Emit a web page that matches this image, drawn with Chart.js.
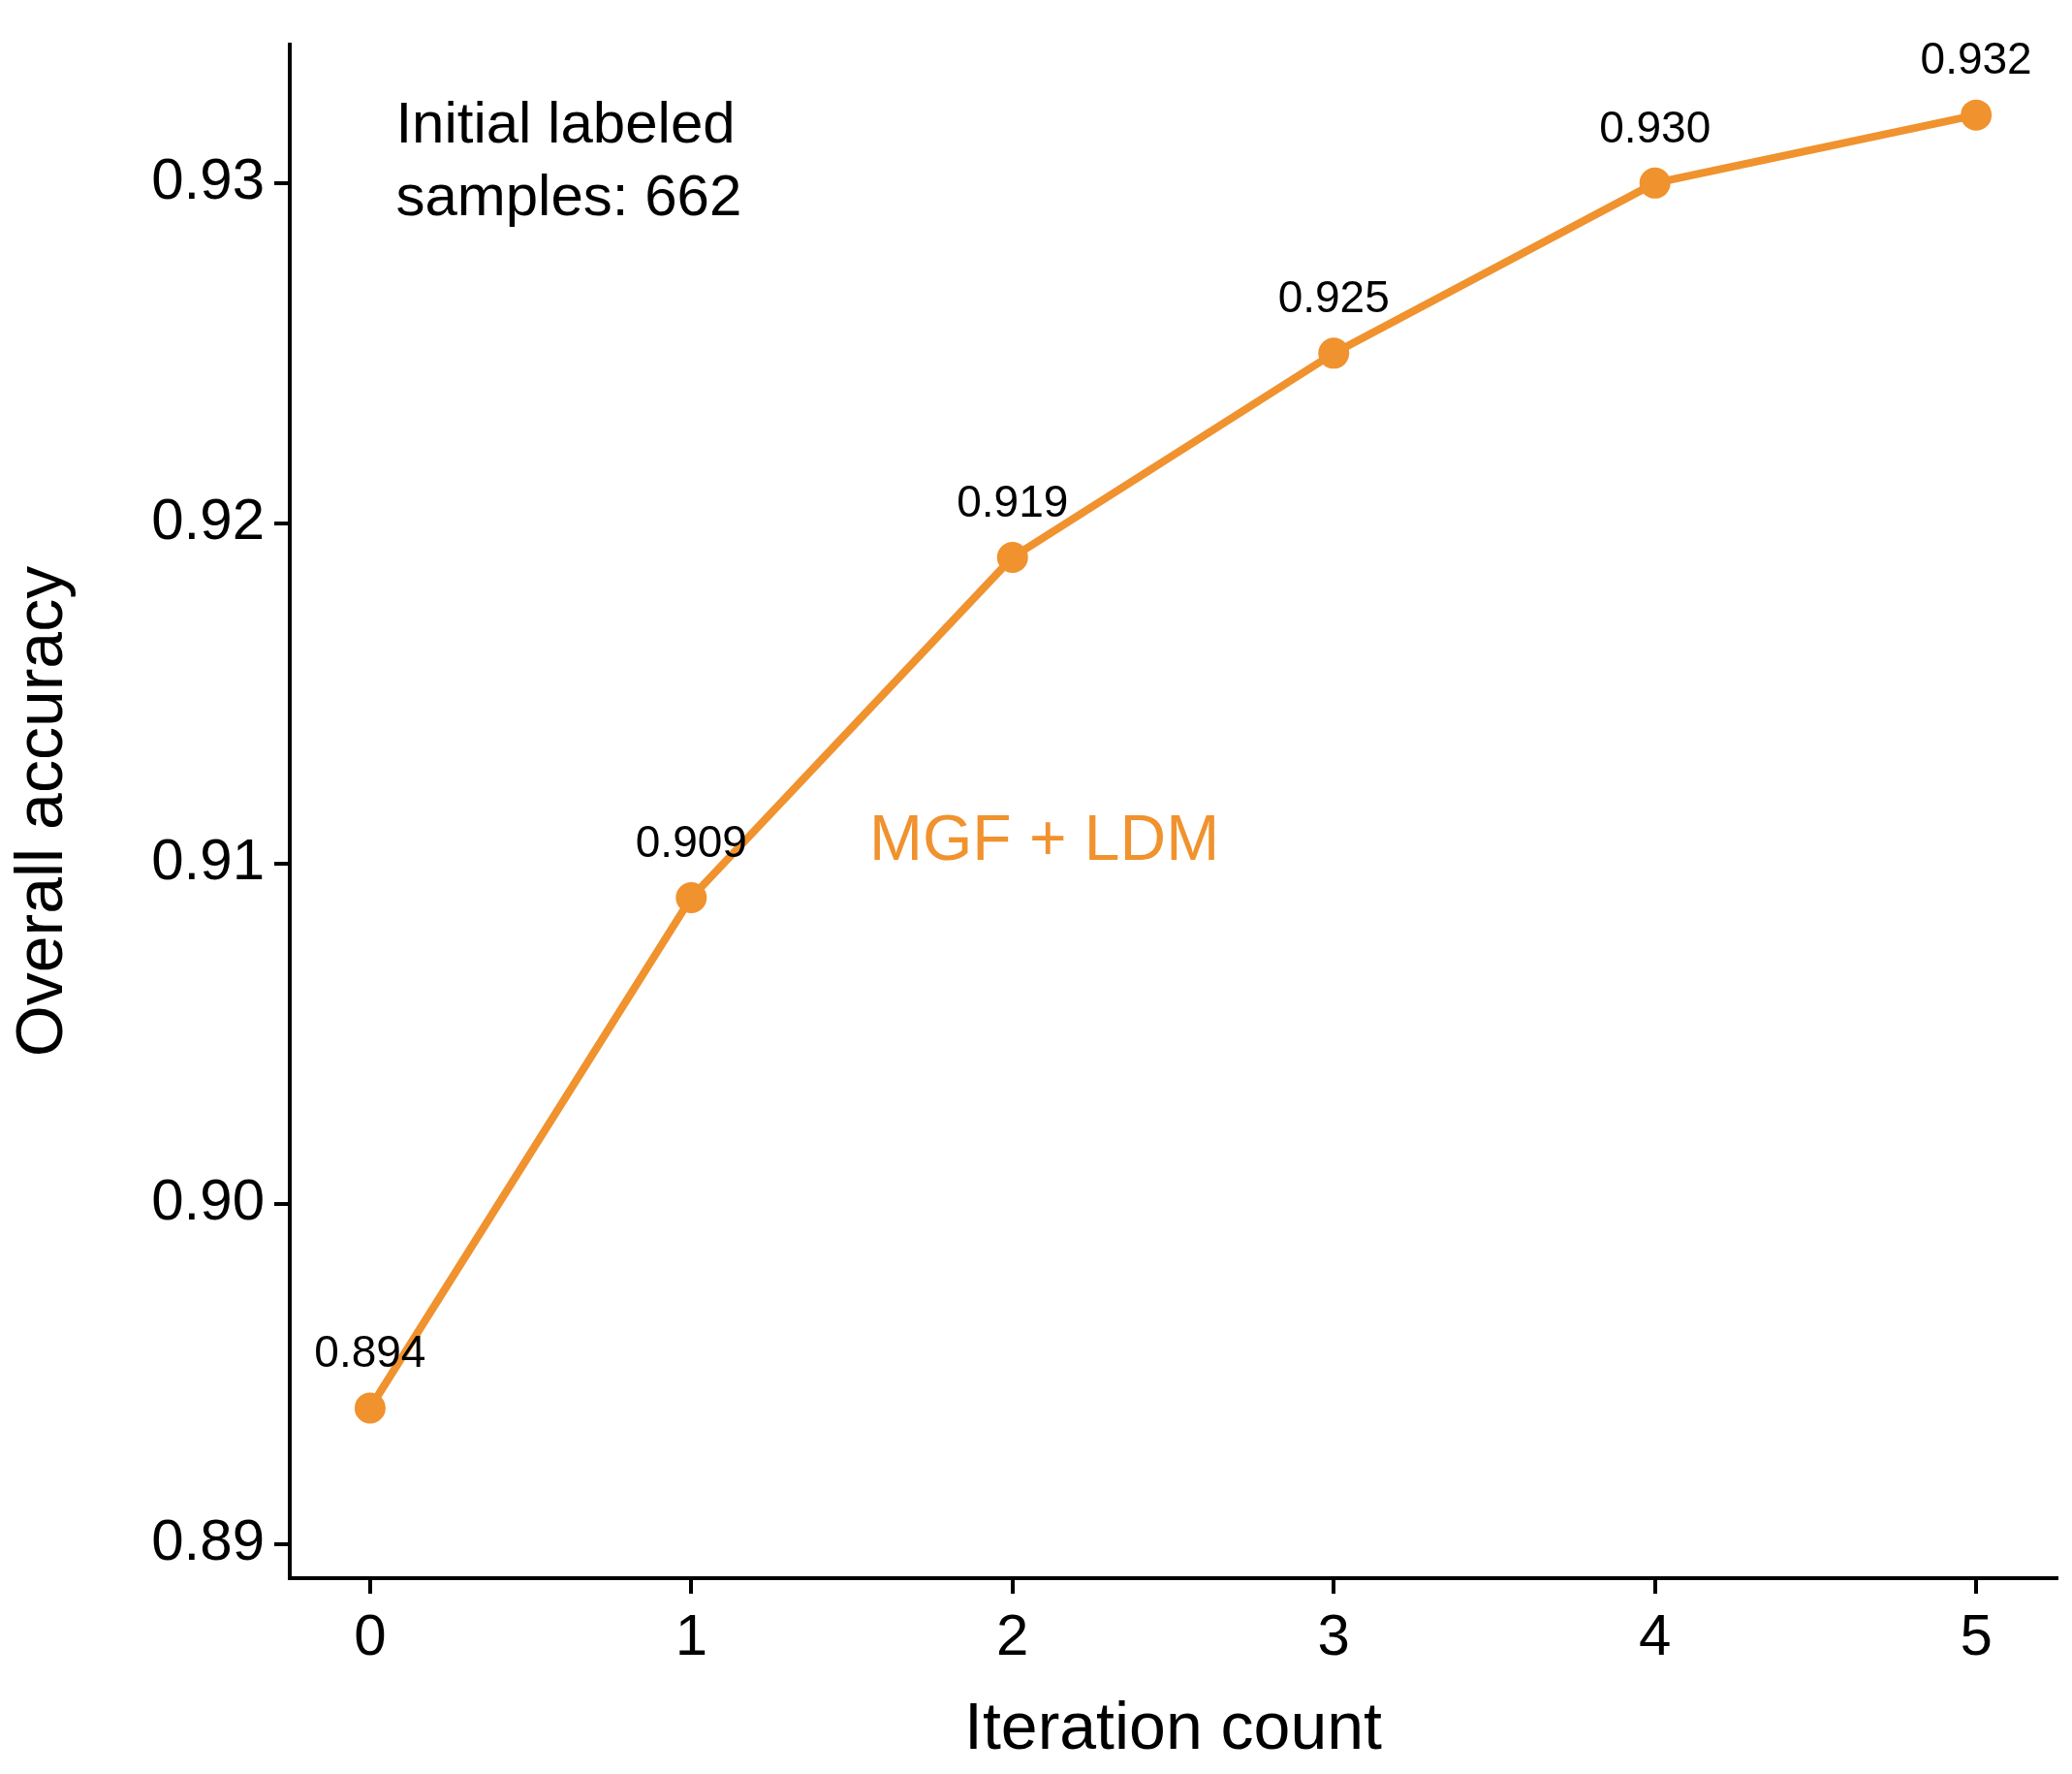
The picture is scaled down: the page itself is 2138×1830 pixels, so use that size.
<!DOCTYPE html>
<html>
<head>
<meta charset="utf-8">
<script src="https://cdn.jsdelivr.net/npm/chart.js@4"></script>
<style>
  html, body { margin: 0; padding: 0; background: #fff; }
  #wrap { width: 2138px; height: 1830px; }
</style>
</head>
<body>
<div id="wrap"><canvas id="accChart"></canvas></div>
<script>
const iterations = [0, 1, 2, 3, 4, 5];
const accuracy = [0.894, 0.909, 0.919, 0.925, 0.930, 0.932];
const accuracyLabels = ['0.894', '0.909', '0.919', '0.925', '0.930', '0.932'];
const yTicks = [0.89, 0.90, 0.91, 0.92, 0.93];
const xTicks = [0, 1, 2, 3, 4, 5];

const orange = '#f0922e';
const font = 'Liberation Sans, Arial, sans-serif';

// draws the value labels and the two text notes
const textPlugin = {
  id: 'texts',
  afterDatasetsDraw(chart) {
    const ctx = chart.ctx;
    const x = chart.scales.x, y = chart.scales.y;
    ctx.save();
    ctx.fillStyle = '#000';
    ctx.font = '46px ' + font;
    ctx.textAlign = 'center';
    ctx.textBaseline = 'middle';
    accuracy.forEach((v, i) => {
      ctx.fillText(accuracyLabels[i], x.getPixelForValue(iterations[i]), y.getPixelForValue(v) - 55);
    });
    ctx.textAlign = 'left';
    ctx.font = '60px ' + font;
    ctx.fillText('Initial labeled', x.getPixelForValue(0.08), y.getPixelForValue(0.93165));
    ctx.fillText('samples: 662', x.getPixelForValue(0.08), y.getPixelForValue(0.92954));
    ctx.fillStyle = orange;
    ctx.font = '66px ' + font;
    ctx.fillText('MGF + LDM', x.getPixelForValue(1.554), y.getPixelForValue(0.91063));
    ctx.restore();
  }
};

new Chart(document.getElementById('accChart'), {
  type: 'line',
  data: {
    datasets: [{
      data: iterations.map((it, i) => ({ x: it, y: accuracy[i] })),
      borderColor: orange,
      backgroundColor: orange,
      borderWidth: 8,
      pointRadius: 16,
      pointHoverRadius: 16,
      pointBorderWidth: 0
    }]
  },
  options: {
    responsive: true,
    maintainAspectRatio: false,
    animation: false,
    layout: { padding: { top: 21, right: 11, left: 0, bottom: 0 } },
    plugins: { legend: { display: false }, tooltip: { enabled: false } },
    scales: {
      x: {
        type: 'linear',
        min: -0.25, max: 5.25,
        afterBuildTicks: s => { s.ticks = xTicks.map(v => ({ value: v })); },
        afterFit: s => { s.height = 202; },
        grid: { drawOnChartArea: false, drawTicks: true, tickLength: 16, color: '#000', lineWidth: 4 },
        border: { color: '#000', width: 4 },
        ticks: { color: '#000', font: { size: 60, family: font }, padding: 10 },
        title: { display: true, text: 'Iteration count', color: '#000', font: { size: 68, family: font }, padding: { top: 0 } }
      },
      y: {
        min: 0.889, max: 0.93407,
        afterBuildTicks: s => { s.ticks = yTicks.map(v => ({ value: v })); },
        afterFit: s => { s.width = 299; },
        grid: { drawOnChartArea: false, drawTicks: true, tickLength: 16, color: '#000', lineWidth: 4 },
        border: { color: '#000', width: 4 },
        ticks: { color: '#000', font: { size: 60, family: font }, padding: 10, callback: v => v.toFixed(2) },
        title: { display: true, text: 'Overall accuracy', color: '#000', font: { size: 68, family: font }, padding: { bottom: 20 } }
      }
    }
  },
  plugins: [textPlugin]
});
</script>
</body>
</html>
